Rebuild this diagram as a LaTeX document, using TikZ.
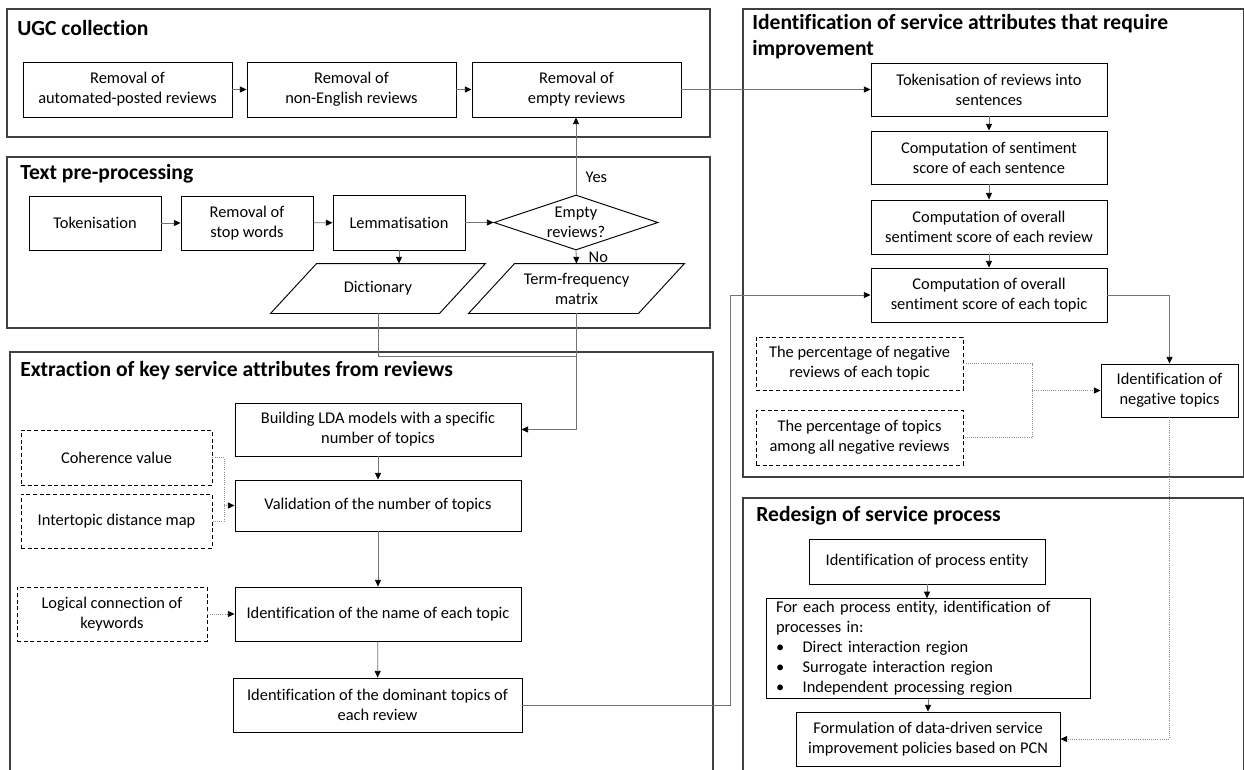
\documentclass[tikz,border=0pt]{standalone}
\usepackage{fontspec}
\setmainfont{Carlito}[Ligatures=NoCommon]
\usetikzlibrary{arrows.meta,calc,positioning,shapes.geometric}
\tikzset{
	sz/.style 2 args={minimum width=#1*0.75pt,minimum height=#2*0.75pt},
	panel/.style={draw=black!75,line width=0.8pt},
	ptitle/.style={anchor=west,inner sep=0pt,align=left,
		font=\fontsize{16.2}{19.5}\selectfont\bfseries},
	proc/.style={draw,line width=0.7pt,align=center,inner sep=2pt,
		font=\fontsize{12.3}{15}\selectfont},
	note/.style={proc,dashed,dash pattern=on 3pt off 2pt},
	data/.style={proc,draw=none,
		prefix after command={\pgfextra{\let\fixname\tikzlastnode}},
		append after command={\pgfextra{\draw[line width=0.7pt]
			(\fixname.south west) -- ($(\fixname.north west)+(46,0)$) --
			(\fixname.north east) -- ($(\fixname.south east)+(-46,0)$) -- cycle;}}},
	ask/.style={proc,diamond,aspect=3,inner sep=0pt},
	ln/.style={draw=black!55,line width=0.6pt},
	ar/.style={ln,-{Triangle[length=5pt,width=4.5pt,color=black]}},
	dln/.style={draw=black!45,densely dotted,line width=0.6pt},
	dar/.style={dln,-{Triangle[length=5pt,width=4.5pt,color=black]}},
	lbl/.style={font=\fontsize{12.3}{14}\selectfont,inner sep=1pt}
}

\begin{document}
\begin{tikzpicture}[x=0.75pt,y=-0.75pt]
	\useasboundingbox (0,0) rectangle (1244,769);
	\clip (0,0) rectangle (1244,769);
	% panels
	\draw[panel] (7,9) rectangle (710,137);
	\draw[panel] (7,157) rectangle (710,328);
	\draw[panel] (10,352) rectangle (713,790);
	\draw[panel] (743,9) rectangle (1243.5,477);
	\draw[panel] (743,498) rectangle (1243.5,790);
	\node[ptitle] (ugcT) at (17,28) {UGC collection};
	\node[ptitle] (preT) at (20,174) {Text pre-processing};
	\node[ptitle] (extT) at (20,371) {Extraction of key service attributes from reviews};
	\node[ptitle] (idnT) at (752,37) {Identification of service attributes that require\\improvement};
	\node[ptitle] (redT) at (756,516) {Redesign of service process};
	% UGC collection
	\node[proc,sz={209}{55}] (ugc1) at (127.5,89.5) {Removal of\\automated-posted reviews};
	\node[proc,sz={209}{55}] (ugc2) at (351.5,89.5) {Removal of\\non-English reviews};
	\node[proc,sz={209}{55}] (ugc3) at (576.5,89.5) {Removal of\\empty reviews};
	% text pre-processing
	\node[proc,sz={132}{54}] (pre1) at (95,223) {Tokenisation};
	\node[proc,sz={132}{54}] (pre2) at (247,223) {Removal of\\stop words};
	\node[proc,sz={132}{55}] (pre3) at (399,222.5) {Lemmatisation};
	\node[ask,sz={164}{55}] (pre4) at (576,222.5) {Empty\\reviews?};
	\node[data,sz={214}{49}] (pre5) at (378,288.5) {Dictionary};
	\node[data,sz={215}{49}] (pre6) at (576.5,288.5) {Term-frequency\\matrix};
	\coordinate (jn) at (576.5,356);
	% extraction
	\node[proc,sz={286}{53}] (ext1) at (378,429.5) {Building LDA models with a specific\\number of topics};
	\node[proc,sz={286}{51}] (ext2) at (378,505.5) {Validation of the number of topics};
	\node[proc,sz={286}{54}] (ext3) at (378,614) {Identification of the name of each topic};
	\node[proc,sz={289}{54}] (ext4) at (377.5,705) {Identification of the dominant topics of\\each review};
	\node[note,sz={191}{55}] (ext5) at (116.5,457.5) {Coherence value};
	\node[note,sz={191}{54}] (ext6) at (116.5,521) {Intertopic distance map};
	\node[note,sz={190}{54}] (ext7) at (112,614) {Logical connection of\\keywords};
	\coordinate (brk1) at (224,505.5);
	% identification
	\node[proc,sz={236}{53}] (idn1) at (989,89.5) {Tokenisation of reviews into\\sentences};
	\node[proc,sz={236}{53}] (idn2) at (989,157.5) {Computation of sentiment\\score of each sentence};
	\node[proc,sz={236}{54}] (idn3) at (989,227) {Computation of overall\\sentiment score of each review};
	\node[proc,sz={236}{54}] (idn4) at (989,295) {Computation of overall\\sentiment score of each topic};
	\node[note,sz={207}{53}] (idn5) at (859.5,363.5) {The percentage of negative\\reviews of each topic};
	\node[note,sz={207}{55}] (idn6) at (859.5,437.5) {The percentage of topics\\among all negative reviews};
	\node[proc,sz={137}{53}] (idn7) at (1169.5,390.5) {Identification of\\negative topics};
	\coordinate (brk2) at (1032,390.5);
	% redesign
	\node[proc,sz={236}{45}] (red1) at (927,561.5) {Identification of process entity};
	\node[proc,sz={324}{97},align=left,text width=228pt,inner xsep=7.5pt] (red2) at (928,648.5)
		{For each process entity, identification of\\processes in:\\
		 \makebox[20pt][l]{\textbullet}Direct interaction region\\
		 \makebox[20pt][l]{\textbullet}Surrogate interaction region\\
		 \makebox[20pt][l]{\textbullet}Independent processing region};
	\node[proc,sz={264}{54}] (red3) at (928,739) {Formulation of data-driven service\\improvement policies based on PCN};
	% connectors
	\draw[ar] (ugc1) -- (ugc2);
	\draw[ar] (ugc2) -- (ugc3);
	\draw[ar] (ugc3) -- (idn1);
	\draw[ar] (pre1) -- (pre2);
	\draw[ar] (pre2) -- (pre3);
	\draw[ar] (pre3) -- (pre4);
	\draw[ar] (pre4.north) -- (pre4.north |- ugc3.south) node[lbl,pos=.22,right=6pt] (yes) {Yes};
	\draw[ar] (pre4.south) -- (pre6.north) node[lbl,midway,right=8pt] (no) {No};
	\draw[ar] (pre3.south) -- (pre3.south |- pre5.north);
	\draw[ln] (pre5.south) |- (jn);
	\draw[ar] (pre6.south) |- (ext1.east);
	\draw[ar] (ext1) -- (ext2);
	\draw[ar] (ext2) -- (ext3);
	\draw[ar] (ext3) -- (ext4);
	\draw[dln] (ext5.east) -| (brk1) |- (ext6.east);
	\draw[dar] (brk1) -- (ext2.west);
	\draw[dar] (ext7) -- (ext3);
	\draw[ar] (ext4.east) -| ($(idn4.west)+(-140,0)$) -- (idn4.west);
	\draw[ar] (idn1) -- (idn2);
	\draw[ar] (idn2) -- (idn3);
	\draw[ar] (idn3) -- (idn4);
	\draw[ar] (idn4.east) -| (idn7.north);
	\draw[dln] (idn5.east) -| (brk2) |- (idn6.east);
	\draw[dar] (brk2) -- (idn7.west);
	\draw[dar] (idn7.south) |- (red3.east);
	\draw[ar] (red1.south) -- (red1.south |- red2.north);
	\draw[ar] (red2) -- (red3);
\end{tikzpicture}
\end{document}
